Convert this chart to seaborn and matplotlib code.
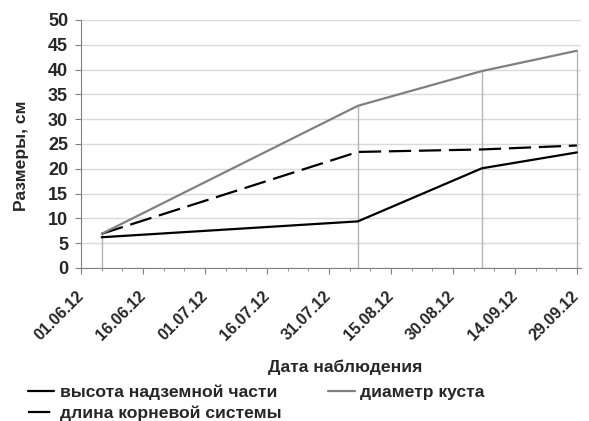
import pandas as pd
import matplotlib
matplotlib.use("Agg")
import matplotlib.pyplot as plt
import matplotlib.dates as mdates
import matplotlib.transforms as mtransforms
import seaborn as sns

# данные наблюдений
dates = ["2012-06-06", "2012-08-07", "2012-09-06", "2012-09-29"]
height = [6.2, 9.4, 20.1, 23.3]
root = [6.9, 23.4, 23.9, 24.7]
diameter = [6.9, 32.7, 39.7, 43.8]

labels = ["высота надземной части", "длина корневой системы", "диаметр куста"]


def plot_data():
    sns.set_style("white")
    plt.rcParams["font.family"] = ["Liberation Sans", "DejaVu Sans"]
    plt.rcParams["font.weight"] = "bold"

    d = pd.to_datetime(dates)
    dados = pd.DataFrame({"date": d, "h": height, "r": root, "dm": diameter})

    W, H = 589, 421
    fig = plt.figure(figsize=(W / 100, H / 100), dpi=100)
    ax = fig.add_axes([81 / W, 1 - 268 / H, 500 / W, 248 / H])

    # линии проекции
    for x, y in zip(d, diameter):
        ax.plot([x, x], [0, y], color="#b4b4b4", lw=1, zorder=1)

    sns.lineplot(x="date", y="h", data=dados, ax=ax, color="black", lw=1.6, label=labels[0])
    sns.lineplot(x="date", y="r", data=dados, ax=ax, color="black", lw=1.6, label=labels[1])
    ax.lines[-1].set_dashes([10, 3.5])
    sns.lineplot(x="date", y="dm", data=dados, ax=ax, color="#808080", lw=1.6, label=labels[2])

    ax.set_ylim(0, 50)
    ax.yaxis.grid(True, color="#d9d9d9", lw=1)
    ax.set_axisbelow(True)

    start = pd.Timestamp("2012-06-01")
    ax.set_xlim(mdates.date2num(start), mdates.date2num(pd.Timestamp("2012-09-30")))
    major = pd.date_range(start, periods=9, freq="15D")
    minor = pd.date_range(start, periods=25, freq="5D")
    ax.set_xticks(mdates.date2num(major))
    ax.set_xticks(mdates.date2num(minor), minor=True)
    ax.set_xticklabels([t.strftime("%d.%m.%y") for t in major], rotation=45,
                       ha="right", va="center", rotation_mode="anchor",
                       fontsize=11.5, fontweight="bold")
    shift = mtransforms.ScaledTranslation(2 / 100, 0, fig.dpi_scale_trans)
    for lab in ax.get_xticklabels():
        lab.set_transform(lab.get_transform() + shift)
    ax.set_yticks(range(0, 51, 5))
    ax.set_yticklabels([str(v) for v in range(0, 51, 5)], fontsize=13, fontweight="bold")

    ax.tick_params(axis="x", which="major", length=4.3, color="#808080", direction="out",
                   bottom=True, pad=14)
    ax.tick_params(axis="x", which="minor", length=2.2, color="#808080", direction="out", bottom=True)
    ax.tick_params(axis="y", length=4.3, color="#808080", direction="out", left=True, pad=5)

    for s in ["top", "right"]:
        ax.spines[s].set_visible(False)
    for s in ["left", "bottom"]:
        ax.spines[s].set_color("#808080")

    ax.set_xlabel("Дата наблюдения", fontsize=12.6, fontweight="bold")
    ax.xaxis.set_label_coords((345 - 81) / 500, (268 - 360) / 248)
    ax.set_ylabel("Размеры, см", fontsize=12.6, fontweight="bold")
    ax.yaxis.set_label_coords((29 - 81) / 500, (268 - 156) / 248)

    ax.legend(loc="upper left", bbox_to_anchor=(28 / W, 1 - 385 / H),
              bbox_transform=fig.transFigure, ncol=2, frameon=False,
              fontsize=12.6, handlelength=1.5, handletextpad=0.3, columnspacing=2.7,
              labelspacing=0.3, borderaxespad=0, borderpad=0)

    fig.savefig("out.png", dpi=100)


def main():
    plot_data()


if __name__ == "__main__":
    main()
